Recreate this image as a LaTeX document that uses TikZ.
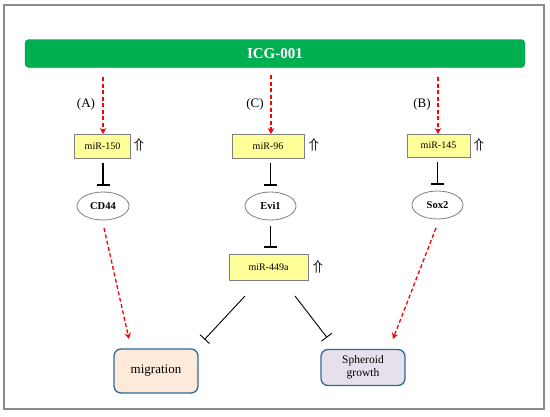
\documentclass[tikz,border=0pt]{standalone}
\usepackage{fontspec}
\setmainfont{Liberation Serif}
\usetikzlibrary{arrows.meta,shapes.geometric}
\definecolor{icggreen}{HTML}{00B050}
\definecolor{mirfill}{HTML}{FFFF99}
\definecolor{boxgray}{HTML}{7F7F7F}
\definecolor{framegray}{HTML}{8A8A8A}
\definecolor{outblue}{HTML}{2F6A9B}
\definecolor{migfill}{HTML}{FDEADA}
\definecolor{sphfill}{HTML}{E6E0EC}
\begin{document}
\begin{tikzpicture}[x=1pt,y=-1pt,
  mirbox/.style={draw=boxgray, fill=mirfill, line width=0.8pt, minimum height=24pt, inner sep=0pt, font=\fontsize{10}{12}\selectfont},
  gene/.style={ellipse, draw=boxgray, fill=white, line width=0.8pt, minimum width=52pt, minimum height=28pt, inner sep=0pt, font=\bfseries\fontsize{10.5}{12}\selectfont},
  outbox/.style={draw=outblue, line width=1.3pt, rounded corners=7pt, minimum width=84pt, inner sep=0pt, align=center},
  redarr/.style={red, line width=1.3pt, dash pattern=on 4pt off 2.5pt, -{Stealth[length=6pt,width=6.5pt]}},
  tbar/.style={black, line width=1.4pt, -{Bar[width=13pt,line width=1.4pt]}},
  inh/.style={black, line width=0.9pt, -{Bar[width=13pt,line width=0.9pt]}},
  lbl/.style={font=\fontsize{13}{14}\selectfont},
  uparr/.style={font=\fontsize{15}{15}\selectfont\boldmath, inner sep=0pt}
]
\useasboundingbox (0,0) rectangle (550,416);
\fill[white] (0,0) rectangle (550,416);
\draw[framegray, line width=1.3pt] (4,5) rectangle (544,409);

\node[fill=icggreen, draw=icggreen!80!black, line width=0.4pt, rounded corners=4pt, minimum width=500pt, minimum height=28pt, inner sep=0pt,
      text=white, font=\bfseries\fontsize{15}{18}\selectfont] (icg) at (275,53.5) {ICG-001};

\node[lbl] (la) at (86,104) {(A)};
\node[lbl] (lc) at (255,104) {(C)};
\node[lbl] (lb) at (422,104) {(B)};

\node[mirbox, minimum width=56pt] (m150) at (102.5,146) {miR-150};
\node[mirbox, minimum width=72pt] (m96) at (268,146) {miR-96};
\node[mirbox, minimum width=63pt, minimum height=23pt] (m145) at (438.5,145.5) {miR-145};
\node[mirbox, minimum width=79pt, minimum height=26pt] (m449) at (268.5,267) {miR-449a};

\node[uparr] (u150) at (139,145) {$\Uparrow$};
\node[uparr] (u96) at (314,145) {$\Uparrow$};
\node[uparr] (u145) at (479,144.5) {$\Uparrow$};
\node[uparr] (u449) at (318,266.5) {$\Uparrow$};

\node[gene] (cd44) at (103,206) {CD44};
\node[gene, minimum width=51pt] (evi1) at (270.5,206) {Evi1};
\node[gene, minimum width=51pt] (sox2) at (437.5,205) {Sox2};

\node[outbox, fill=migfill, minimum height=44pt, font=\fontsize{13}{15}\selectfont] (mig) at (156,371) {migration};
\node[outbox, fill=sphfill, minimum height=36pt, font=\fontsize{11.5}{13}\selectfont] (sph) at (363,367.5) {Spheroid\\growth};

% red dashed arrows from ICG-001
\coordinate (sA) at (103,77);
\coordinate (sC) at (271,75);
\coordinate (sB) at (438,77);
\coordinate (eA) at (103,134);
\coordinate (eC) at (271,134);
\coordinate (eB) at (438,134);
\draw[redarr] (sA) -- (eA);
\draw[redarr] (sC) -- (eC);
\draw[redarr] (sB) -- (eB);

% T-bars
\draw[tbar, shorten <=5pt, shorten >=6pt] (m150.south -| cd44) -- (cd44.north);
\draw[tbar, shorten <=5pt, shorten >=6pt] (m96.south -| evi1) -- (evi1.north);
\draw[tbar, shorten <=5pt, shorten >=6pt] (m145.south -| sox2) -- (sox2.north);
\draw[tbar, shorten <=6pt, shorten >=6pt] (evi1.south) -- (m449.north -| evi1);

% diagonal inhibitions from miR-449a
\coordinate (i1s) at (245,296);
\coordinate (i1e) at (204.5,339.5);
\coordinate (i2s) at (295,296);
\coordinate (i2e) at (327,337.5);
\draw[inh] (i1s) -- (i1e);
\draw[inh] (i2s) -- (i2e);

% red dashed to outcomes
\coordinate (c1s) at (104,228);
\coordinate (c1e) at (129,339);
\coordinate (c2s) at (436,228);
\coordinate (c2e) at (393,339);
\draw[redarr] (c1s) -- (c1e);
\draw[redarr] (c2s) -- (c2e);
\end{tikzpicture}
\end{document}
